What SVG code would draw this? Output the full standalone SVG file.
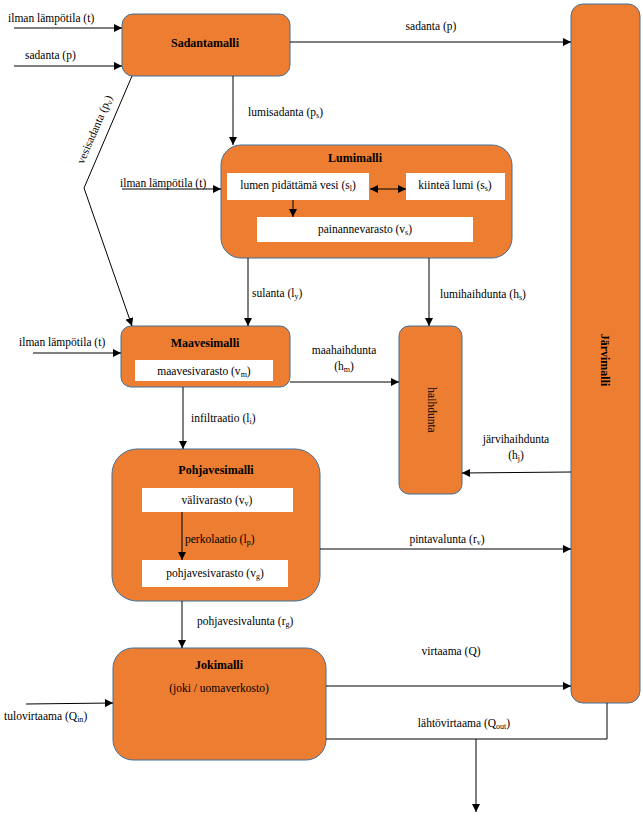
<svg xmlns="http://www.w3.org/2000/svg" width="643" height="817" viewBox="0 0 643 817">
<defs>
<marker id="ah" viewBox="0 0 10 10" refX="10" refY="5" markerWidth="8" markerHeight="8" markerUnits="userSpaceOnUse" orient="auto-start-reverse">
<path d="M0,0 L10,5 L0,10 z" fill="#000"/>
</marker>
<style>
.box{fill:#ED7D31;stroke:#41719C;stroke-width:1}
.inner{fill:#fff;stroke:none}
.t{font-family:"Liberation Serif",Tinos,"Times New Roman","DejaVu Serif","Noto Serif",serif;font-size:11.5px;fill:#000}
.b{font-family:"Liberation Serif",Tinos,"Times New Roman","DejaVu Serif","Noto Serif",serif;font-size:12px;font-weight:bold;fill:#000}
.c{text-anchor:middle}
.s{font-size:8px}
.ln{stroke:#000;stroke-width:1;fill:none}
.ar{stroke:#000;stroke-width:1;fill:none;marker-end:url(#ah)}
</style>
</defs>
<rect width="643" height="817" fill="#fff"/>

<g id="sadantamalli">
<rect class="box" x="122" y="14" width="168" height="62" rx="11"/>
<text class="b c" x="205" y="47">Sadantamalli</text>
</g>

<g id="jarvimalli">
<rect class="box" x="571" y="4" width="69" height="699" rx="12"/>
<text class="b c" transform="translate(601,360) rotate(90)">Järvimalli</text>
</g>

<g id="lumimalli">
<rect class="box" x="221" y="145" width="291" height="113" rx="20"/>
<text class="b c" x="355" y="162">Lumimalli</text>
<rect class="inner" x="227" y="173" width="142" height="27"/>
<text class="t c" x="298" y="189">lumen pidättämä vesi (s<tspan class="s" dy="2">l</tspan><tspan dy="-2">)</tspan></text>
<rect class="inner" x="406" y="173" width="99" height="27"/>
<text class="t c" x="455" y="189">kiinteä lumi (s<tspan class="s" dy="2">s</tspan><tspan dy="-2">)</tspan></text>
<rect class="inner" x="257" y="217" width="216" height="25"/>
<text class="t c" x="365" y="233">painannevarasto (v<tspan class="s" dy="2">s</tspan><tspan dy="-2">)</tspan></text>
</g>

<g id="maavesimalli">
<rect class="box" x="121" y="326" width="169" height="61" rx="10"/>
<text class="b c" x="205" y="347">Maavesimalli</text>
<rect class="inner" x="135" y="360" width="138" height="21"/>
<text class="t c" x="204" y="375">maavesivarasto (v<tspan class="s" dy="2">m</tspan><tspan dy="-2">)</tspan></text>
</g>

<g id="haihdunta">
<rect class="box" x="399" y="326" width="63" height="168" rx="10"/>
<text class="t c" transform="translate(428,410) rotate(90)">haihdunta</text>
</g>

<g id="pohjavesimalli">
<rect class="box" x="112" y="449" width="208" height="152" rx="25"/>
<text class="b c" x="216" y="474">Pohjavesimalli</text>
<rect class="inner" x="142" y="488" width="151" height="24"/>
<text class="t c" x="217" y="504">välivarasto (v<tspan class="s" dy="2">v</tspan><tspan dy="-2">)</tspan></text>
<rect class="inner" x="142" y="560" width="146" height="27"/>
<text class="t c" x="215" y="577">pohjavesivarasto (v<tspan class="s" dy="2">g</tspan><tspan dy="-2">)</tspan></text>
</g>

<g id="jokimalli">
<rect class="box" x="113" y="648" width="213" height="112" rx="20"/>
<text class="b c" x="219" y="669">Jokimalli</text>
<text class="t c" x="219" y="692">(joki / uomaverkosto)</text>
</g>

<g id="connectors">
<line class="ar" x1="14" y1="28" x2="122" y2="28"/>
<line class="ar" x1="14" y1="66" x2="122" y2="66"/>
<line class="ar" x1="290" y1="42" x2="571" y2="42"/>
<line class="ar" x1="233" y1="76" x2="233" y2="145"/>
<polyline class="ar" points="132,76 84,188 132,326"/>
<line class="ar" x1="122" y1="189" x2="221" y2="189"/>
<line class="ar" x1="370" y1="189" x2="406" y2="189" marker-start="url(#ah)"/>
<line class="ar" x1="293" y1="200" x2="293" y2="217"/>
<line class="ar" x1="248" y1="258" x2="248" y2="326"/>
<line class="ar" x1="429" y1="258" x2="429" y2="326"/>
<line class="ar" x1="33" y1="353" x2="121" y2="353"/>
<line class="ar" x1="290" y1="382" x2="399" y2="382"/>
<line class="ar" x1="571" y1="472" x2="462" y2="473"/>
<line class="ar" x1="183" y1="387" x2="183" y2="449"/>
<line class="ar" x1="182" y1="512" x2="182" y2="560"/>
<line class="ar" x1="320" y1="549" x2="571" y2="549"/>
<line class="ar" x1="182" y1="601" x2="182" y2="648"/>
<line class="ar" x1="26" y1="704" x2="113" y2="703"/>
<line class="ar" x1="326" y1="686" x2="571" y2="686"/>
<polyline class="ln" points="326,739 607,739 607,703"/>
<line class="ar" x1="476" y1="739" x2="476" y2="812"/>
</g>

<g id="labels">
<text class="t" x="8" y="22">ilman lämpötila (t)</text>
<text class="t" x="25" y="59">sadanta (p)</text>
<text class="t c" x="431" y="30">sadanta (p)</text>
<text class="t" x="248" y="116">lumisadanta (p<tspan class="s" dy="2">s</tspan><tspan dy="-2">)</tspan></text>
<text class="t c" transform="translate(98,131) rotate(-66.8)">vesisadanta (p<tspan class="s" dy="2">v</tspan><tspan dy="-2">)</tspan></text>
<text class="t" x="120" y="187">ilman lämpötila (t)</text>
<text class="t" x="252" y="297">sulanta (l<tspan class="s" dy="2">y</tspan><tspan dy="-2">)</tspan></text>
<text class="t" x="440" y="298">lumihaihdunta (h<tspan class="s" dy="2">s</tspan><tspan dy="-2">)</tspan></text>
<text class="t" x="19" y="346">ilman lämpötila (t)</text>
<text class="t c" x="344" y="354">maahaihdunta</text>
<text class="t c" x="344" y="370">(h<tspan class="s" dy="2">m</tspan><tspan dy="-2">)</tspan></text>
<text class="t" x="191" y="422">infiltraatio (l<tspan class="s" dy="2">i</tspan><tspan dy="-2">)</tspan></text>
<text class="t c" x="516" y="443">järvihaihdunta</text>
<text class="t c" x="516" y="459">(h<tspan class="s" dy="2">j</tspan><tspan dy="-2">)</tspan></text>
<text class="t" x="185" y="543">perkolaatio (l<tspan class="s" dy="2">p</tspan><tspan dy="-2">)</tspan></text>
<text class="t c" x="447" y="543">pintavalunta (r<tspan class="s" dy="2">v</tspan><tspan dy="-2">)</tspan></text>
<text class="t" x="197" y="625">pohjavesivalunta (r<tspan class="s" dy="2">g</tspan><tspan dy="-2">)</tspan></text>
<text class="t c" x="451" y="655">virtaama (Q)</text>
<text class="t" x="4" y="720">tulovirtaama (Q<tspan class="s" dy="2">in</tspan><tspan dy="-2">)</tspan></text>
<text class="t c" x="464" y="727">lähtövirtaama (Q<tspan class="s" dy="2">out</tspan><tspan dy="-2">)</tspan></text>
</g>
</svg>
